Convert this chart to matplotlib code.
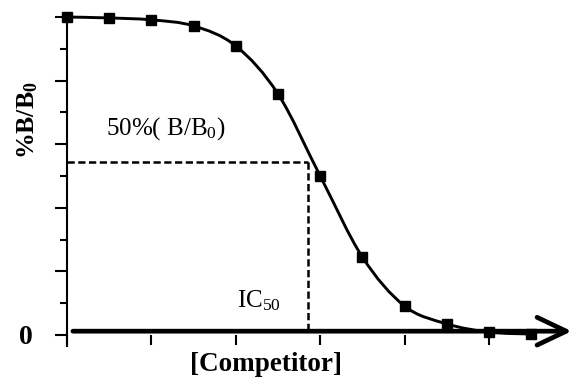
import numpy as np
import matplotlib
matplotlib.use("Agg")
import matplotlib.pyplot as plt
from matplotlib.path import Path
from matplotlib.patches import PathPatch

plt.rcParams['font.family'] = ['Liberation Serif', 'DejaVu Serif']
plt.rcParams['mathtext.fontset'] = 'custom'
plt.rcParams['mathtext.rm'] = 'Liberation Serif'
plt.rcParams['mathtext.bf'] = 'Liberation Serif:bold'
plt.rcParams['mathtext.it'] = 'Liberation Serif:italic'

# data (competitor concentration in log units, %B/B0)
conc = [0.0, 0.5, 1.0, 1.5, 2.0, 2.5, 3.0, 3.5, 4.0, 4.5, 5.0, 5.5]
bb0 = [100.0, 99.7, 99.1, 97.2, 90.9, 75.8, 50.0, 24.5, 9.1, 3.5, 0.9, 0.3]
ic50_x = 2.855
half_level = 54.5
baseline_y = 1.2
baseline_start, baseline_end = 0.07, 5.98
y_major = [0, 20, 40, 60, 80, 100]
y_minor = [10, 30, 50, 70, 90]
x_ticks = [0, 1, 2, 3, 4, 5]

fig = plt.figure(figsize=(5.72, 3.81), dpi=100)
ax = fig.add_axes([67/572, (381-335)/381, (572-67)/572, 318/381])
ax.set_xlim(0, 505/84.4)
ax.set_ylim(0, 100)

for s in ['top', 'right', 'bottom']:
    ax.spines[s].set_visible(False)
ax.spines['left'].set_linewidth(1.5)
ax.spines['left'].set_bounds(-3.5, 100)

# smoothed curve through the points (Catmull-Rom -> cubic Bezier)
pts = np.column_stack([conc, bb0])
verts = [tuple(pts[0])]
codes = [Path.MOVETO]
n = len(pts)
for i in range(n - 1):
    p0 = pts[i - 1] if i > 0 else pts[i]
    p1 = pts[i]
    p2 = pts[i + 1]
    p3 = pts[i + 2] if i + 2 < n else pts[i + 1]
    c1 = p1 + (p2 - p0) / 6.0
    c2 = p2 - (p3 - p1) / 6.0
    verts += [tuple(c1), tuple(c2), tuple(p2)]
    codes += [Path.CURVE4, Path.CURVE4, Path.CURVE4]
ax.add_patch(PathPatch(Path(verts, codes), fill=False, lw=2.1, color='black',
                       clip_on=False, zorder=3))
ax.plot(conc, bb0, linestyle='none', marker='s', markersize=6.5, color='black',
        clip_on=False, zorder=4)

# baseline arrow
ax.annotate('', xy=(baseline_end, baseline_y), xytext=(baseline_start, baseline_y),
            arrowprops=dict(arrowstyle='->,head_length=1.05,head_width=0.5',
                            lw=3.4, color='black', mutation_scale=20,
                            shrinkA=0, shrinkB=0),
            annotation_clip=False, zorder=2)

# dashed IC50 guides
ax.plot([0, ic50_x], [half_level, half_level], color='black', lw=1.8,
        linestyle=(0, (2.9, 1.4)), zorder=2)
ax.plot([ic50_x, ic50_x], [half_level, baseline_y], color='black', lw=1.8,
        linestyle=(0, (2.9, 1.4)), zorder=2)

ax.text(0.46, 62.9, r'50%( B/B$_0$)', fontsize=18, ha='left', va='baseline')
ax.text(2.01, 8.8, r'IC$_{50}$', fontsize=18, ha='left', va='baseline')

# ticks
ax.set_yticks(y_major)
ax.set_yticklabels(['0', '', '', '', '', ''], fontsize=20, fontweight='bold')
ax.set_yticks(y_minor, minor=True)
ax.tick_params(axis='y', which='major', direction='out', length=8.6, width=1.5, pad=16)
ax.tick_params(axis='y', which='minor', direction='out', length=5, width=1.5)
ax.set_xticks(x_ticks)
ax.set_xticklabels([])
ax.tick_params(axis='x', which='major', direction='out', length=7, width=1.5)

ax.set_xlabel('[Competitor]', fontsize=19.5, fontweight='bold')
ax.xaxis.set_label_coords(0.394, -0.055)
ax.set_ylabel(r'%B/B$_\mathbf{0}$', fontsize=18.5, fontweight='bold')
ax.yaxis.set_label_coords(-0.053, 0.676)

fig.savefig('out.png', dpi=100)
